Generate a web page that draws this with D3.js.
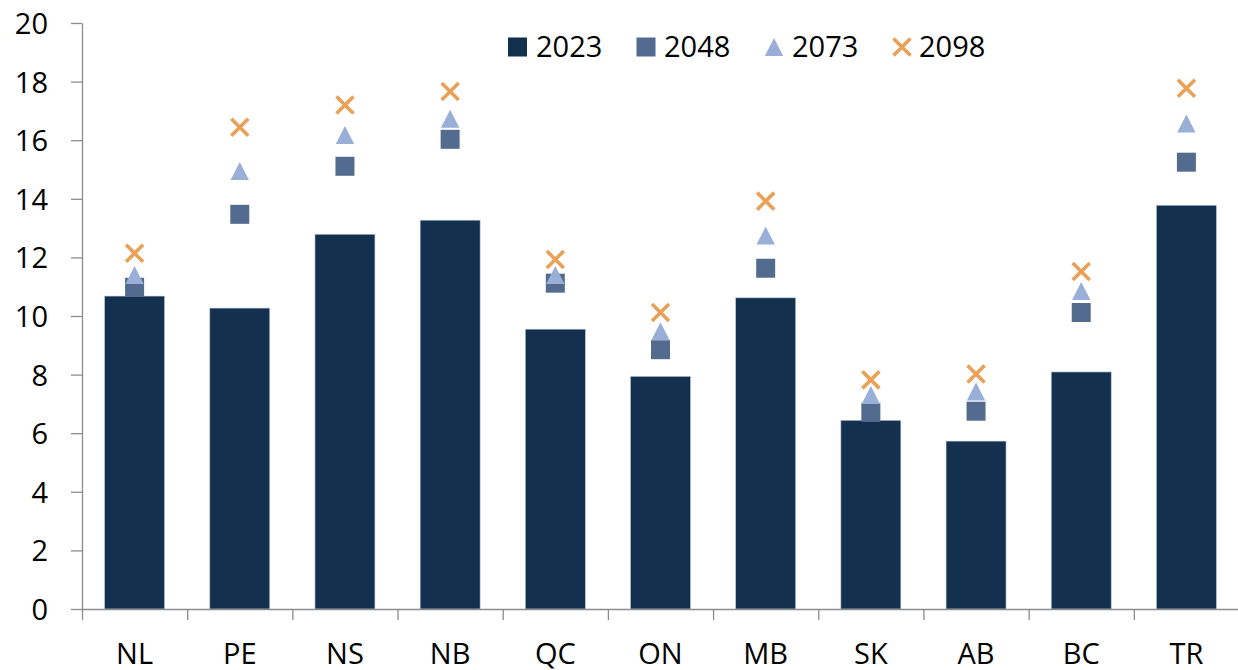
<!DOCTYPE html>
<html>
<head>
<meta charset="utf-8">
<script src="https://cdn.jsdelivr.net/npm/d3@7"></script>
<style>
  body { margin: 0; background: #fff; }
  svg text { font-family: "Open Sans", "Noto Sans", sans-serif; fill: #000; }
</style>
</head>
<body>
<svg id="chart"></svg>
<script>
const categories = ["NL", "PE", "NS", "NB", "QC", "ON", "MB", "SK", "AB", "BC", "TR"];
const values2023 = [10.68, 10.27, 12.79, 13.27, 9.55, 7.94, 10.62, 6.44, 5.73, 8.09, 13.78];
const values2048 = [10.98, 13.47, 15.11, 16.03, 11.12, 8.85, 11.63, 6.71, 6.75, 10.12, 15.25];
const values2073 = [11.40, 14.95, 16.18, 16.73, 11.40, 9.48, 12.75, 7.30, 7.42, 10.85, 16.57];
const values2098 = [12.14, 16.44, 17.20, 17.66, 11.93, 10.12, 13.92, 7.82, 8.02, 11.52, 17.77];
const yTicks = [0, 2, 4, 6, 8, 10, 12, 14, 16, 18, 20];
const legendLabels = ["2023", "2048", "2073", "2098"];

const W = 1238, H = 670;
const plotLeft = 82, plotRight = 1239, plotTop = 23, plotBottom = 609;

const svg = d3.select("#chart").attr("width", W).attr("height", H);

const x = d3.scaleBand()
  .domain(categories)
  .range([plotLeft, plotRight])
  .paddingInner(0.43)
  .paddingOuter(0.215);

const xEdge = d3.scaleLinear().domain([0, categories.length]).range([plotLeft, plotRight]);

const y = d3.scaleLinear().domain([0, 20]).range([plotBottom, plotTop]);

const axisColor = "#8c8c8c";

// y axis
const gy = svg.append("g")
  .attr("transform", `translate(${plotLeft},0)`)
  .call(d3.axisLeft(y).tickValues(yTicks).tickSize(11).tickPadding(23).tickSizeOuter(0));
gy.select(".domain").attr("stroke", axisColor).attr("stroke-width", 1.3);
gy.selectAll(".tick line").attr("stroke", axisColor).attr("stroke-width", 1.3);
gy.selectAll(".tick text").style("font-size", "29px").attr("dy", "0.36em");

// bars
const cx = (d, i) => x(categories[i]) + x.bandwidth() / 2;

svg.append("g")
  .selectAll("rect")
  .data(values2023)
  .join("rect")
  .attr("x", (d, i) => x(categories[i]))
  .attr("y", d => y(d))
  .attr("width", x.bandwidth())
  .attr("height", d => y(0) - y(d))
  .attr("fill", "#14304f")
  .attr("stroke", "#b9c6d8")
  .attr("stroke-width", 0.6);

// x axis
const gx = svg.append("g")
  .attr("transform", `translate(0,${plotBottom})`)
  .call(d3.axisBottom(xEdge).tickValues(d3.range(0, categories.length + 1)).tickFormat("").tickSize(11).tickSizeOuter(0));
gx.select(".domain").attr("stroke", axisColor).attr("stroke-width", 1.3);
gx.selectAll(".tick line").attr("stroke", axisColor).attr("stroke-width", 1.3);

const gxl = svg.append("g")
  .attr("transform", `translate(0,${plotBottom})`)
  .call(d3.axisBottom(x).tickSize(0).tickPadding(45));
gxl.select(".domain").remove();
gxl.selectAll(".tick text").style("font-size", "29px").attr("dy", "0.36em");

// marker shapes
const sq = d3.symbol().type(d3.symbolSquare).size(19 * 19);
const tri = "M0,-9L9.2,9L-9.2,9Z";
function xPath(s) {
  return `M${-s},${-s}L${s},${s}M${-s},${s}L${s},${-s}`;
}

svg.append("g")
  .selectAll("path")
  .data(values2048)
  .join("path")
  .attr("d", sq)
  .attr("transform", (d, i) => `translate(${cx(d, i)},${y(d)})`)
  .attr("fill", "#536b8f");

svg.append("g")
  .selectAll("path")
  .data(values2073)
  .join("path")
  .attr("d", tri)
  .attr("transform", (d, i) => `translate(${cx(d, i)},${y(d)})`)
  .attr("fill", "#99afd7");

svg.append("g")
  .selectAll("path")
  .data(values2098)
  .join("path")
  .attr("d", xPath(8.5))
  .attr("transform", (d, i) => `translate(${cx(d, i)},${y(d)})`)
  .attr("stroke", "#e8a157")
  .attr("stroke-width", 3.6)
  .attr("fill", "none");

// legend
const legendX = [517.5, 646, 774, 902];
const textX = [536, 664, 792, 919];
const ly = 47;
const lg = svg.append("g");
legendLabels.forEach((lab, i) => {
  const g = lg.append("g").attr("transform", `translate(${legendX[i]},${ly})`);
  if (i === 0) g.append("path").attr("d", sq).attr("fill", "#14304f");
  if (i === 1) g.append("path").attr("d", sq).attr("fill", "#536b8f");
  if (i === 2) g.append("path").attr("d", tri).attr("fill", "#99afd7");
  if (i === 3) g.append("path").attr("d", xPath(8.5)).attr("stroke", "#e8a157").attr("stroke-width", 3.6).attr("fill", "none");
  lg.append("text")
    .attr("x", textX[i])
    .attr("y", ly)
    .attr("dy", "0.36em")
    .style("font-size", "29px")
    .text(lab);
});
</script>
</body>
</html>
